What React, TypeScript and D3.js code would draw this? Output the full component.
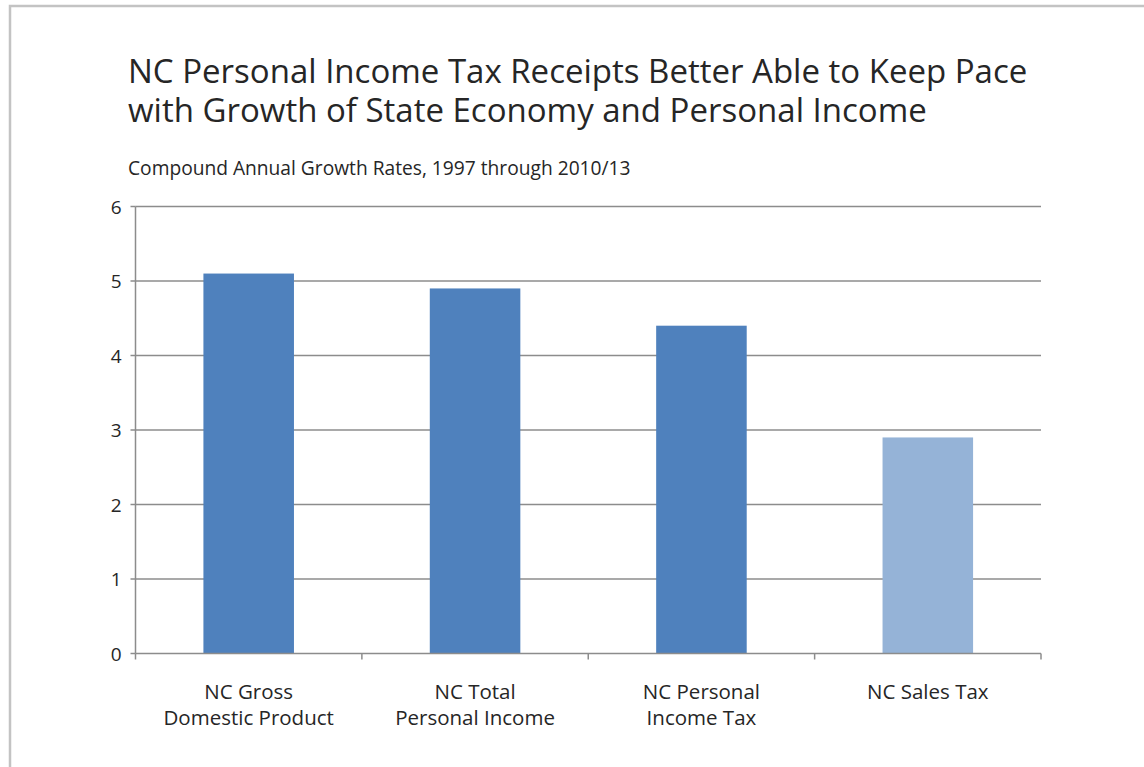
import React from "react";
import * as d3 from "d3";

const categories: string[][] = [
  ["NC Gross", "Domestic Product"],
  ["NC Total", "Personal Income"],
  ["NC Personal", "Income Tax"],
  ["NC Sales Tax"],
];
const values: number[] = [5.1, 4.9, 4.4, 2.9];
const barColors: string[] = ["#4f81bd", "#4f81bd", "#4f81bd", "#95b3d7"];
const yTicks: number[] = [0, 1, 2, 3, 4, 5, 6];
const titleLines: string[] = [
  "NC Personal Income Tax Receipts Better Able to Keep Pace",
  "with Growth of State Economy and Personal Income",
];
const subtitle = "Compound Annual Growth Rates, 1997 through 2010/13";

const W = 1144;
const H = 767;
const FONT = "'Open Sans', sans-serif";

export default function App() {
  const left = 135.5;
  const right = 1041;
  const top = 206.5;
  const bottom = 653.5;
  const x = d3
    .scaleBand<number>()
    .domain(values.map((_, i) => i))
    .range([left, right])
    .paddingInner(0.6)
    .paddingOuter(0.3);
  const band = d3.scaleBand<number>().domain(values.map((_, i) => i)).range([left, right]);
  const y = d3.scaleLinear().domain([0, 6]).range([bottom, top]);

  return (
    <svg
      width={W}
      height={H}
      style={{ position: "absolute", left: 0, top: 0, background: "#fff" }}
      fontFamily={FONT}
    >
      <rect x={10} y={6} width={W} height={H} fill="#fff" stroke="#c3c3c3" strokeWidth={2.5} />
      <text x={128} y={83} fontSize={33} fill="#262626">
        {titleLines.map((t, i) => (
          <tspan key={i} x={128} dy={i === 0 ? 0 : 38.5}>
            {t}
          </tspan>
        ))}
      </text>
      <text x={128} y={175} fontSize={19.2} fill="#262626">
        {subtitle}
      </text>
      {yTicks.map((t) => (
        <g key={t}>
          {t > 0 && (
            <line x1={left} x2={right} y1={y(t)} y2={y(t)} stroke="#8c8c8c" strokeWidth={1.5} />
          )}
          <line x1={left - 5} x2={left} y1={y(t)} y2={y(t)} stroke="#8c8c8c" strokeWidth={1.5} />
          <text x={left - 14} y={y(t) + 7} fontSize={19} textAnchor="end" fill="#262626">
            {t}
          </text>
        </g>
      ))}
      {values.map((v, i) => (
        <rect
          key={i}
          x={x(i)}
          y={y(v)}
          width={x.bandwidth()}
          height={y(0) - y(v)}
          fill={barColors[i]}
        />
      ))}
      <line x1={left} x2={left} y1={top} y2={bottom} stroke="#8c8c8c" strokeWidth={1.5} />
      <line x1={left} x2={right} y1={bottom} y2={bottom} stroke="#8c8c8c" strokeWidth={1.5} />
      {values.map((_, i) => (
        <line
          key={i}
          x1={(band(i) as number) + band.bandwidth()}
          x2={(band(i) as number) + band.bandwidth()}
          y1={bottom}
          y2={bottom + 6}
          stroke="#8c8c8c"
          strokeWidth={1.5}
        />
      ))}
      <line x1={left} x2={left} y1={bottom} y2={bottom + 6} stroke="#8c8c8c" strokeWidth={1.5} />
      {categories.map((lines, i) => (
        <text
          key={i}
          x={(band(i) as number) + band.bandwidth() / 2}
          y={699}
          fontSize={20.5}
          textAnchor="middle"
          fill="#262626"
        >
          {lines.map((l, j) => (
            <tspan key={j} x={(band(i) as number) + band.bandwidth() / 2} dy={j === 0 ? 0 : 26}>
              {l}
            </tspan>
          ))}
        </text>
      ))}
    </svg>
  );
}
